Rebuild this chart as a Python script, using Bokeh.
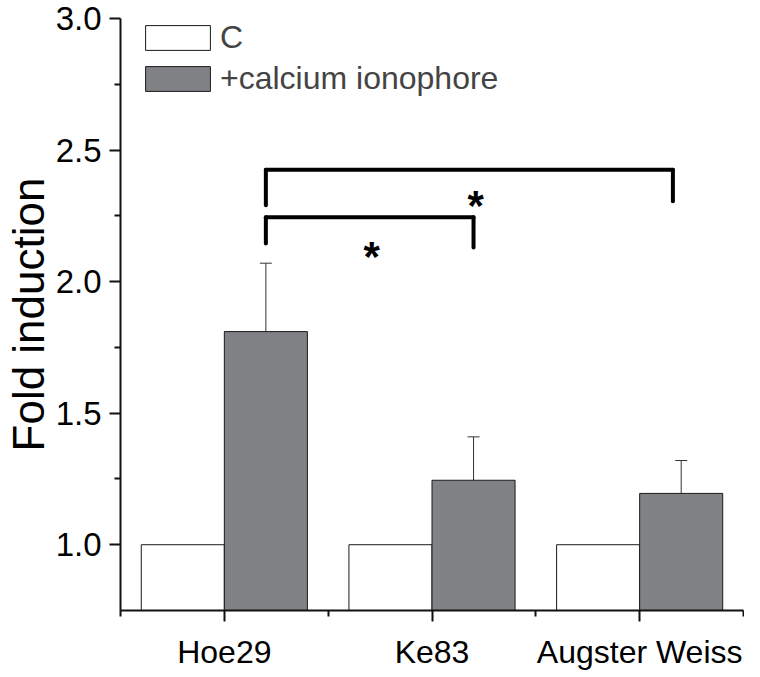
import numpy as np
from bokeh.plotting import figure
from bokeh.models import (FixedTicker, Range1d, Whisker, ColumnDataSource, Legend,
                          LegendItem, TeeHead)
from bokeh.core.properties import value
from bokeh.embed import file_html
from bokeh.resources import INLINE

# ---------------- data ----------------
categories = ["Hoe29", "Ke83", "Augster Weiss"]
series_names = ["C", "+calcium ionophore"]
control = [1.0, 1.0, 1.0]
ionophore = [1.81, 1.245, 1.195]
ionophore_err = [0.26, 0.165, 0.125]
y_ticks = [1.0, 1.5, 2.0, 2.5, 3.0]
y_minor = [1.25, 1.75, 2.25, 2.75]

# significance brackets
bracket_x0 = [1.2, 1.2]
bracket_x1 = [2.2, 3.16]
bracket_y = [2.245, 2.425]
bracket_left_end = [2.145, 2.29]
bracket_right_end = [2.13, 2.305]
star_x = [1.71, 2.21]
star_y = [2.095, 2.29]

FONT = "Liberation Sans"
GREY = "#818286"

xc = np.arange(1, len(categories) + 1, dtype=float)
bar_w = 0.4

p = figure(width=744, height=672, x_range=Range1d(0.5, 3.5), y_range=Range1d(0.75, 3.0),
           output_backend="svg", toolbar_location=None,
           min_border_left=111, min_border_right=1, min_border_top=18, min_border_bottom=50)
p.outline_line_color = None
p.grid.grid_line_color = None
p.background_fill_color = "white"

src = ColumnDataSource(dict(x=xc, xc=xc - bar_w / 2, xi=xc + bar_w / 2,
                            c=control, i=ionophore,
                            up=np.array(ionophore) + np.array(ionophore_err)))

r_c = p.vbar(x="xc", width=bar_w, bottom=0, top="c", source=src,
             fill_color="white", line_color="#1a1a1a", line_width=1)
r_i = p.vbar(x="xi", width=bar_w, bottom=0, top="i", source=src,
             fill_color=GREY, line_color="#1a1a1a", line_width=1)

w = Whisker(base="xi", lower="i", upper="up", source=src, dimension="height",
            line_color="#333333", line_width=1,
            upper_head=TeeHead(size=12, line_color="#333333", line_width=1),
            lower_head=None)
p.add_layout(w)

# brackets
p.segment(x0=bracket_x0, x1=bracket_x1, y0=bracket_y, y1=bracket_y,
          line_color="black", line_width=4, line_cap="round")
p.segment(x0=bracket_x0, x1=bracket_x0, y0=bracket_y, y1=bracket_left_end,
          line_color="black", line_width=4, line_cap="round")
p.segment(x0=bracket_x1, x1=bracket_x1, y0=bracket_y, y1=bracket_right_end,
          line_color="black", line_width=4, line_cap="round")
p.text(x=star_x, y=star_y, text=["*", "*"], text_font=value(FONT),
       text_font_size="42px", text_font_style="bold", text_align="center",
       text_baseline="middle", text_color="black")

# axes
xa = p.xaxis[0]
xa.ticker = FixedTicker(ticks=list(xc), minor_ticks=[0.5, 1.5, 2.5, 3.5])
xa.major_label_overrides = {float(v): c for v, c in zip(xc, categories)}
xa.major_label_overrides.update({int(v): c for v, c in zip(xc, categories)})
ya = p.yaxis[0]
ya.ticker = FixedTicker(ticks=y_ticks, minor_ticks=y_minor)
ya.major_label_overrides = {v: f"{v:.1f}" for v in y_ticks}
ya.major_label_overrides.update({1: "1.0", 2: "2.0", 3: "3.0"})
ya.axis_label = "Fold induction"

for ax in (xa, ya):
    ax.axis_line_width = 2
    ax.axis_line_color = "#111111"
    ax.major_tick_line_width = 2
    ax.minor_tick_line_width = 2
    ax.major_tick_line_color = "#111111"
    ax.minor_tick_line_color = "#111111"
    ax.major_tick_out = 11
    ax.major_tick_in = 0
    ax.minor_tick_out = 6
    ax.minor_tick_in = 0
    ax.major_label_text_font = FONT
    ax.major_label_text_color = "black"
    ax.axis_label_text_font = FONT
    ax.axis_label_text_font_size = "44px"
    ax.axis_label_text_font_style = "normal"
    ax.axis_label_text_color = "black"
xa.major_label_text_font_size = "32px"
ya.major_label_text_font_size = "33px"
xa.major_label_standoff = 12
ya.major_label_standoff = 8
ya.axis_label_standoff = 0

legend = Legend(items=[LegendItem(label=series_names[0], renderers=[r_c]),
                       LegendItem(label=series_names[1], renderers=[r_i])],
                location=(17, 513), orientation="vertical")
legend.glyph_width = 81
legend.glyph_height = 31
legend.label_text_font = FONT
legend.label_text_font_size = "32px"
legend.label_standoff = 2
legend.padding = 0
legend.margin = 0
legend.spacing = 4
legend.border_line_color = None
legend.background_fill_alpha = 0
p.add_layout(legend)

open("out.html", "w").write(file_html(p, INLINE))
